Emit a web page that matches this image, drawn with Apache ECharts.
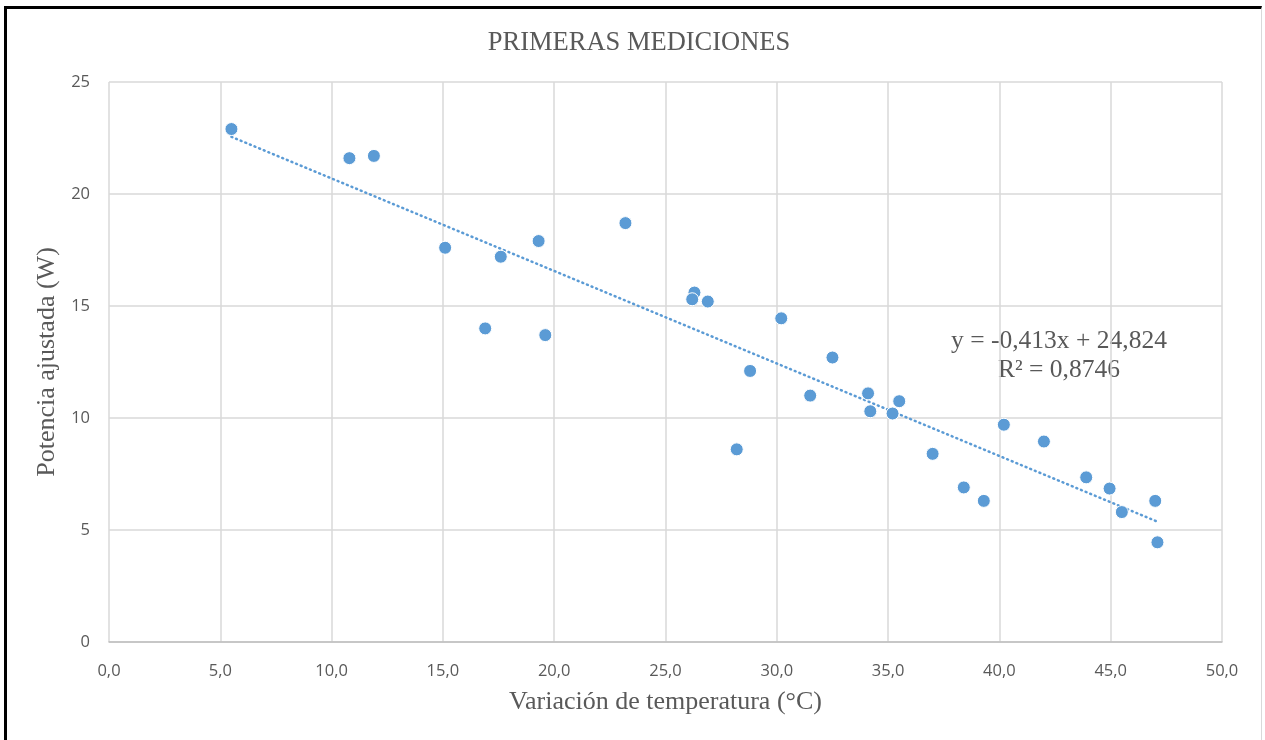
<!DOCTYPE html>
<html>
<head>
<meta charset="utf-8">
<script src="https://cdn.jsdelivr.net/npm/echarts@6/dist/echarts.min.js"></script>
<style>
html,body{margin:0;padding:0;background:#fff;}
#frame{position:absolute;left:4px;top:6px;width:1258px;height:740px;border-left:3px solid #000;border-top:3px solid #000;border-right:1px solid #d9d9d9;box-sizing:border-box;}
#chart{position:absolute;left:0;top:0;width:1265px;height:740px;}
</style>
</head>
<body>
<div id="frame"></div>
<div id="chart"></div>
<script>
const titleText = "PRIMERAS MEDICIONES";
const xAxisName = "Variación de temperatura (°C)";
const yAxisName = "Potencia ajustada (W)";
const tempX = [5.5, 10.8, 11.9, 15.1, 17.6, 16.9, 19.3, 19.6, 23.2, 26.3, 26.2, 26.9, 30.2, 28.8, 28.2, 31.5, 32.5, 34.1, 34.2, 35.2, 35.5, 37.0, 38.4, 39.3, 40.2, 42.0, 43.9, 44.95, 45.5, 47.0, 47.1];
const powerY = [22.9, 21.6, 21.7, 17.6, 17.2, 14.0, 17.9, 13.7, 18.7, 15.6, 15.3, 15.2, 14.45, 12.1, 8.6, 11.0, 12.7, 11.1, 10.3, 10.2, 10.75, 8.4, 6.9, 6.3, 9.7, 8.95, 7.35, 6.85, 5.8, 6.3, 4.45];
const trendSlope = -0.413;
const trendIntercept = 24.824;
const equationLines = ["y = -0,413x + 24,824", "R² = 0,8746"];
const xTicks = {min: 0, max: 50, interval: 5};
const yTicks = {min: 0, max: 25, interval: 5};

const points = tempX.map((x, i) => [x, powerY[i]]);
const xMin = Math.min(...tempX), xMax = Math.max(...tempX);
const trend = [[xMin, trendSlope * xMin + trendIntercept], [xMax, trendSlope * xMax + trendIntercept]];

const chart = echarts.init(document.getElementById('chart'));
const serif = '"Liberation Serif", "DejaVu Serif", serif';
const sans = '"Open Sans", "Liberation Sans", sans-serif';
chart.setOption({
  animation: false,
  backgroundColor: 'transparent',
  title: {
    text: titleText, left: 634, top: 25, textAlign: 'center',
    textStyle: {fontFamily: serif, fontSize: 26.5, fontWeight: 'normal', color: '#595959'}
  },
  grid: {left: 109, right: 43, top: 82, bottom: 98},
  xAxis: {
    type: 'value', min: xTicks.min, max: xTicks.max, interval: xTicks.interval,
    name: xAxisName, nameLocation: 'middle', nameGap: 47,
    nameTextStyle: {fontFamily: serif, fontSize: 26, color: '#595959'},
    axisLine: {show: true, lineStyle: {color: '#bfbfbf', width: 1.5}},
    axisTick: {show: false},
    axisLabel: {fontFamily: sans, fontSize: 16.5, color: '#595959', margin: 21,
      formatter: v => v.toFixed(1).replace('.', ',')},
    splitLine: {show: true, lineStyle: {color: '#d9d9d9', width: 1.5}}
  },
  yAxis: {
    type: 'value', min: yTicks.min, max: yTicks.max, interval: yTicks.interval,
    name: yAxisName, nameLocation: 'middle', nameGap: 43,
    nameTextStyle: {fontFamily: serif, fontSize: 26, color: '#595959'},
    axisLine: {show: false},
    axisTick: {show: false},
    axisLabel: {fontFamily: sans, fontSize: 16.5, color: '#595959', margin: 19},
    splitLine: {show: true, lineStyle: {color: '#d9d9d9', width: 1.5}}
  },
  series: [
    {
      type: 'line', data: trend, symbol: 'none', silent: true, z: 3,
      lineStyle: {color: '#5B9BD5', width: 2.5, type: [1, 4], cap: 'round'}
    },
    {
      type: 'scatter', data: points, symbol: 'circle', symbolSize: 13, z: 4,
      itemStyle: {color: '#5B9BD5', borderColor: '#ffffff', borderWidth: 1, opacity: 1}
    }
  ],
  graphic: [
    {type: 'text', x: 1059, y: 341, style: {text: equationLines[0], fontFamily: serif, fontSize: 25.5, fill: '#595959', align: 'center', verticalAlign: 'middle'}},
    {type: 'text', x: 1059, y: 370, style: {text: equationLines[1], fontFamily: serif, fontSize: 25.5, fill: '#595959', align: 'center', verticalAlign: 'middle'}}
  ]
});
</script>
</body>
</html>
